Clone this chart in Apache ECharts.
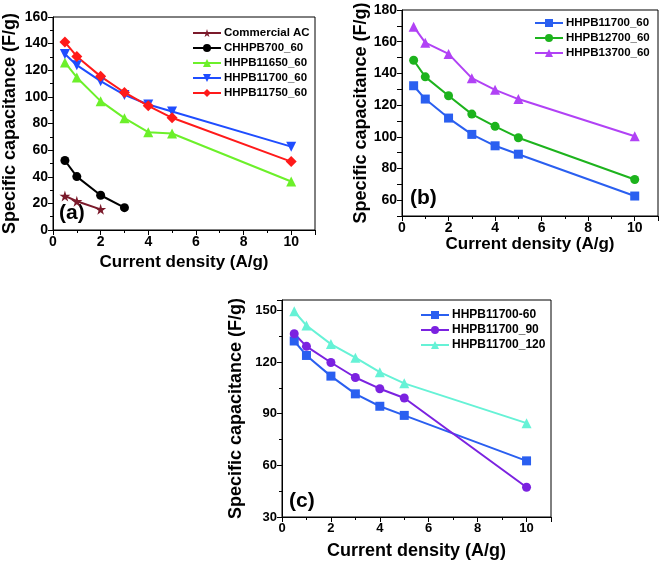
<!DOCTYPE html>
<html><head><meta charset="utf-8">
<script src="https://cdn.jsdelivr.net/npm/echarts@6/dist/echarts.min.js"></script>
<style>html,body{margin:0;padding:0;background:#fff}#c{width:661px;height:562px}</style>
</head><body><div id="c"></div>
<script>
// ---- data ----
const xA = [0.5, 1, 2, 3, 4, 5, 10];
const commercialAC = [[0.5, 25.6], [1, 21.6], [2, 15.5]];
const chhpb700_60 = [[0.5, 52.2], [1, 40.1], [2, 26.1], [3, 16.8]];
const hhpb11650_60 = [125.9, 114.6, 96.8, 84.0, 73.5, 72.5, 36.4];
const hhpb11700_60 = [132.2, 123.8, 111.8, 101.5, 94.3, 89.0, 62.6];
const hhpb11750_60 = [141.2, 130.4, 115.4, 103.3, 93.3, 84.3, 51.4];
const hhpb12700_60 = [148.3, 137.8, 125.9, 114.3, 106.6, 99.4, 73.0];
const hhpb13700_60 = [169.5, 159.4, 152.3, 137.0, 129.6, 123.8, 100.3];
const hhpb11700_90 = [136.4, 129.1, 119.7, 111.0, 104.5, 99.1, 47.3];
const hhpb11700_120 = [149.4, 141.2, 130.4, 122.5, 114.1, 107.6, 84.5];
const xTicks = [0, 2, 4, 6, 8, 10];

const pair = (ys) => xA.map((x, i) => [x, ys[i]]);
const FONT = '"Liberation Sans", Arial, sans-serif';
const STAR = 'path://M50,0 L61,35 L98,35 L68,57 L79,91 L50,70 L21,91 L32,57 L2,35 L39,35 Z';

function xAx(gi, fs, nameFs, gap) {
  return {
    type: 'value', gridIndex: gi, min: 0, max: 11, interval: 2,
    axisLine: { show: true, lineStyle: { color: '#000', width: 1 } },
    axisTick: { show: true, inside: false, length: 5, lineStyle: { color: '#000' } },
    minorTick: { show: true, splitNumber: 2, length: 3, lineStyle: { color: '#000' } },
    splitLine: { show: false },
    axisLabel: { fontSize: fs, fontWeight: 'bold', color: '#000', fontFamily: FONT, margin: 5,
      formatter: v => (xTicks.indexOf(v) >= 0 ? String(v) : '') },
    name: 'Current density (A/g)', nameLocation: 'middle', nameGap: gap,
    nameTextStyle: { fontSize: nameFs, fontWeight: 'bold', color: '#000', fontFamily: FONT }
  };
}
function yAx(gi, min, max, interval, labStep, minor, fs, nameFs, gap) {
  return {
    type: 'value', gridIndex: gi, min: min, max: max, interval: interval,
    axisLine: { show: true, lineStyle: { color: '#000', width: 1 } },
    axisTick: { show: true, inside: false, length: 5, lineStyle: { color: '#000' } },
    minorTick: { show: minor, splitNumber: 2, length: 3, lineStyle: { color: '#000' } },
    splitLine: { show: false },
    axisLabel: { fontSize: fs, fontWeight: 'bold', color: '#000', fontFamily: FONT, margin: 5,
      formatter: v => (v % labStep === 0 ? String(v) : '') },
    name: 'Specific capacitance (F/g)', nameLocation: 'middle', nameGap: gap,
    nameTextStyle: { fontSize: nameFs, fontWeight: 'bold', color: '#000', fontFamily: FONT }
  };
}
function ser(name, data, gi, color, symbol, size, rotate) {
  return {
    type: 'line', name: name, xAxisIndex: gi, yAxisIndex: gi, data: data,
    symbol: symbol, symbolSize: size, symbolRotate: rotate || 0,
    lineStyle: { color: color, width: 2 }, itemStyle: { color: color },
    animation: false, z: 3
  };
}
function leg(names, left, top, fs) {
  return { data: names, left: left, top: top, orient: 'vertical', itemWidth: 28, itemHeight: 10,
    itemGap: 3, selectedMode: false, padding: 0,
    textStyle: { fontSize: fs, fontWeight: 'bold', color: '#000', fontFamily: FONT, padding: [0, 0, 0, -2] } };
}

const chart = echarts.init(document.getElementById('c'), null, { renderer: 'canvas' });
chart.setOption({
  backgroundColor: '#fff',
  animation: false,
  grid: [
    { left: 52, top: 17, width: 263, height: 213, show: true, borderColor: '#000', borderWidth: 1, backgroundColor: 'transparent' },
    { left: 402, top: 10, width: 257, height: 206, show: true, borderColor: '#000', borderWidth: 1, backgroundColor: 'transparent' },
    { left: 282, top: 300, width: 269, height: 217, show: true, borderColor: '#000', borderWidth: 1, backgroundColor: 'transparent' }
  ],
  xAxis: [xAx(0, 14, 17, 24), xAx(1, 14, 17, 20), xAx(2, 13, 18, 25)],
  yAxis: [
    yAx(0, 0, 160, 20, 20, true, 14, 18, 34),
    yAx(1, 50, 180, 10, 20, false, 14, 18, 29),
    yAx(2, 30, 156, 30, 30, true, 13, 18, 37)
  ],
  legend: [
    leg(['Commercial AC', 'CHHPB700_60', 'HHPB11650_60', 'HHPB11700_60', 'HHPB11750_60'], 192, 27, 11.5),
    leg(['HHPB11700_60 ', 'HHPB12700_60', 'HHPB13700_60'], 534, 17, 11.5),
    leg(['HHPB11700-60', 'HHPB11700_90', 'HHPB11700_120'], 420, 309, 12)
  ],
  series: [
    ser('Commercial AC', commercialAC, 0, '#7b1a2b', STAR, 11),
    ser('CHHPB700_60', chhpb700_60, 0, '#000000', 'circle', 9),
    ser('HHPB11650_60', pair(hhpb11650_60), 0, '#6CF02A', 'triangle', 10),
    ser('HHPB11700_60', pair(hhpb11700_60), 0, '#1f4dff', 'triangle', 10, 180),
    ser('HHPB11750_60', pair(hhpb11750_60), 0, '#ff1a1a', 'diamond', 11),
    ser('HHPB11700_60 ', pair(hhpb11700_60), 1, '#2a5ff0', 'rect', 9),
    ser('HHPB12700_60', pair(hhpb12700_60), 1, '#1db31d', 'circle', 9),
    ser('HHPB13700_60', pair(hhpb13700_60), 1, '#b142f5', 'triangle', 10),
    ser('HHPB11700-60', pair(hhpb11700_60), 2, '#2a5ff0', 'rect', 9),
    ser('HHPB11700_90', pair(hhpb11700_90), 2, '#7b22e0', 'circle', 9),
    ser('HHPB11700_120', pair(hhpb11700_120), 2, '#66f2d6', 'triangle', 10)
  ],
  graphic: [
    { type: 'text', left: 59, top: 203, style: { text: '(a)', font: 'bold 21px ' + FONT, fill: '#000' } },
    { type: 'text', left: 410, top: 188, style: { text: '(b)', font: 'bold 21px ' + FONT, fill: '#000' } },
    { type: 'text', left: 289, top: 491, style: { text: '(c)', font: 'bold 21px ' + FONT, fill: '#000' } }
  ]
});
</script></body></html>
